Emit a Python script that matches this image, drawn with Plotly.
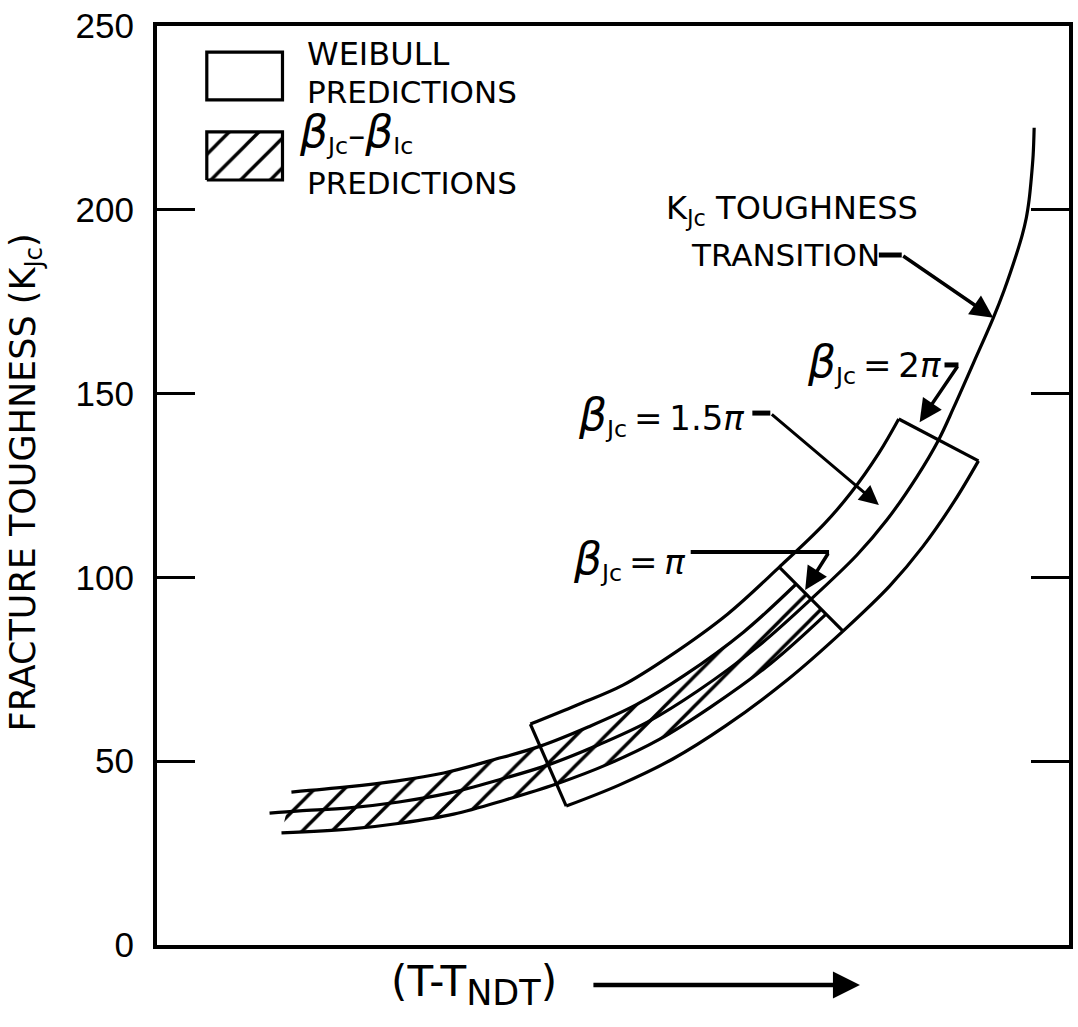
import plotly.graph_objects as go

# K_Jc toughness transition curve (temperature in arbitrary units, K_Jc)
kjc_x = [12.34, 15.61, 21.07, 26.53, 31.99, 37.45, 42.90, 48.36, 53.82, 59.28,
         65.83, 71.72, 76.75, 80.02, 83.30, 85.70, 87.34, 89.52, 91.70, 92.90,
         94.21, 94.87, 95.31, 95.63, 95.85, 96.07, 96.18]
kjc_y = [35.9, 36.5, 37.3, 38.9, 41.3, 44.9, 49.0, 54.4, 60.7, 69.1,
         81.1, 94.1, 106.1, 115.6, 127.3, 137.4, 146.1, 158.3, 170.6, 178.2,
         187.7, 193.1, 197.7, 202.8, 208.1, 214.9, 222.3]

# beta_Jc - beta_Ic prediction band
hatch_upper_x = [14.74, 20.85, 26.20, 31.44, 36.79, 42.03, 47.27, 52.51, 57.86, 64.30, 70.09]
hatch_upper_y = [41.6, 43.0, 44.6, 46.8, 50.3, 54.1, 59.3, 65.3, 73.4, 85.1, 98.2]
hatch_lower_x = [13.65, 21.29, 26.86, 32.53, 38.10, 43.78, 49.45, 55.13, 60.70, 67.36, 73.36]
hatch_lower_y = [30.5, 31.6, 33.2, 35.6, 39.4, 43.8, 49.2, 56.0, 64.7, 76.7, 90.0]

# Weibull prediction band (beta_Jc = pi ends at index 5, 2 pi at the last point)
weib_upper_x = [40.94, 46.07, 51.09, 56.22, 62.55, 68.23, 73.14, 76.09, 79.15, 81.33]
weib_upper_y = [60.1, 65.3, 70.7, 78.6, 90.0, 102.8, 114.5, 123.0, 133.8, 143.1]
weib_lower_x = [44.87, 50.66, 56.55, 62.34, 69.10, 75.22, 80.35, 83.95, 87.45, 90.07]
weib_lower_y = [37.8, 43.5, 50.6, 59.6, 72.1, 85.4, 97.7, 108.3, 120.8, 131.7]
weib_end_index = [0, 5, 9]

y_ticks = [0, 50, 100, 150, 200, 250]

FONT = "DejaVu Sans, Verdana, sans-serif"
TICK_FONT = "Liberation Sans, Arial, sans-serif"
INK = "black"

fig = go.Figure()

spline = dict(color=INK, width=3.2, shape="spline", smoothing=1.0)
hatch = dict(shape="/", size=21, solidity=0.16, fgcolor=INK, bgcolor="white",
             fillmode="replace")

# hatched band
fig.add_trace(go.Scatter(x=hatch_lower_x, y=hatch_lower_y, mode="lines",
                         line=spline, hoverinfo="skip", showlegend=False))
fig.add_trace(go.Scatter(x=hatch_upper_x, y=hatch_upper_y, mode="lines",
                         line=spline, fill="tonexty", fillpattern=hatch,
                         hoverinfo="skip", showlegend=False))

# Weibull band edges
fig.add_trace(go.Scatter(x=weib_upper_x, y=weib_upper_y, mode="lines",
                         line=spline, hoverinfo="skip", showlegend=False))
fig.add_trace(go.Scatter(x=weib_lower_x, y=weib_lower_y, mode="lines",
                         line=spline, hoverinfo="skip", showlegend=False))
for i in weib_end_index:
    fig.add_shape(type="line", xref="x", yref="y",
                  x0=weib_upper_x[i], y0=weib_upper_y[i],
                  x1=weib_lower_x[i], y1=weib_lower_y[i],
                  line=dict(color=INK, width=3.2))

# main transition curve
fig.add_trace(go.Scatter(x=kjc_x, y=kjc_y, mode="lines", line=spline,
                         hoverinfo="skip", showlegend=False))

# key
fig.add_shape(type="rect", xref="x", yref="y", x0=5.46, x1=13.76, y0=229.9, y1=242.9,
              line=dict(color=INK, width=3.2), fillcolor="white")
fig.add_trace(go.Scatter(x=[5.46, 13.76, 13.76, 5.46, 5.46],
                         y=[208.1, 208.1, 221.2, 221.2, 208.1],
                         mode="lines", fill="toself",
                         line=dict(color=INK, width=3.2), fillpattern=hatch,
                         hoverinfo="skip", showlegend=False))


def label(x, y, text, size=31, anchor="left"):
    fig.add_annotation(x=x, y=y, xref="x", yref="y", text=text, showarrow=False,
                       xanchor=anchor, yanchor="middle",
                       font=dict(family=FONT, size=size, color=INK))


def arrow(x_tip, y_tip, x_tail, y_tail, width=3.5):
    fig.add_annotation(x=x_tip, y=y_tip, ax=x_tail, ay=y_tail, xref="x", yref="y",
                       axref="x", ayref="y", text="", showarrow=True,
                       arrowhead=2, arrowsize=1.3, arrowwidth=width, arrowcolor=INK)


def stub(x0, y0, x1, y1, width=5):
    fig.add_shape(type="line", xref="x", yref="y", x0=x0, y0=y0, x1=x1, y1=y1,
                  line=dict(color=INK, width=width))


BETA = "<span style='font-size:44px'><i>β</i></span>"
EQ = "\u2009=\u2009"

label(16.27, 242.4, "WEIBULL", size=32)
label(16.27, 232.0, "PREDICTIONS", size=31)
label(15.3, 220.8, BETA + "<sub>Jc</sub>–" + BETA + "<sub>Ic</sub>", size=34)
label(16.27, 207.3, "PREDICTIONS", size=31)

label(55.6, 199.9, "K<sub>Jc</sub> TOUGHNESS", size=32)
label(58.3, 187.7, "TRANSITION", size=31)
stub(79.15, 187.7, 81.66, 187.7)
arrow(91.70, 170.6, 81.66, 187.7)

label(71.07, 158.3, BETA + "<sub>Jc</sub>" + EQ + "2<i>π</i>", size=34)
stub(86.35, 157.8, 87.88, 157.8)
arrow(83.62, 142.2, 87.88, 157.8)

label(45.96, 144.0, BETA + "<sub>Jc</sub>" + EQ + "1.5<i>π</i>", size=34)
stub(65.28, 144.7, 67.25, 144.7)
arrow(79.15, 119.7, 67.25, 144.7, width=3)

label(45.41, 104.7, BETA + "<sub>Jc</sub>" + EQ + "<i>π</i>", size=34)
stub(58.52, 106.9, 73.69, 106.9, width=4)
arrow(71.07, 96.6, 73.69, 106.9)

# axis titles
fig.add_annotation(x=-0.144, y=0.503, xref="paper", yref="paper",
                   text="FRACTURE TOUGHNESS (K<sub>Jc</sub>)", textangle=-90,
                   xanchor="center", yanchor="middle",
                   showarrow=False, font=dict(family=FONT, size=35, color=INK))
fig.add_annotation(x=(390 - 157) / 916, y=-0.0435, xref="paper", yref="paper",
                   text="(T-T<sub><span style='font-size:35px'>NDT</span></sub>)",
                   xanchor="left", yanchor="middle",
                   showarrow=False, font=dict(family=FONT, size=42, color=INK))
fig.add_annotation(x=(863 - 157) / 916, y=-0.0435, xref="paper", yref="paper",
                   ax=-268, ay=0, text="", showarrow=True, arrowhead=2,
                   arrowsize=1.2, arrowwidth=4.5, arrowcolor=INK)

fig.update_layout(
    width=1078, height=1027,
    margin=dict(l=157, r=5, t=26, b=82),
    paper_bgcolor="white", plot_bgcolor="white",
    showlegend=False,
    xaxis=dict(range=[0, 100], showline=True, linewidth=4, linecolor=INK,
               mirror=True, showticklabels=False, ticks="", showgrid=False,
               zeroline=False),
    yaxis=dict(range=[0, 250], tickvals=y_ticks, ticks="inside", ticklen=38,
               tickwidth=2.5, tickcolor=INK, mirror="ticks", showline=True,
               linewidth=4, linecolor=INK, showgrid=False, zeroline=False,
               ticklabelstandoff=12,
               tickfont=dict(family=TICK_FONT, size=35, color=INK)),
)

fig.write_html("out.html")
